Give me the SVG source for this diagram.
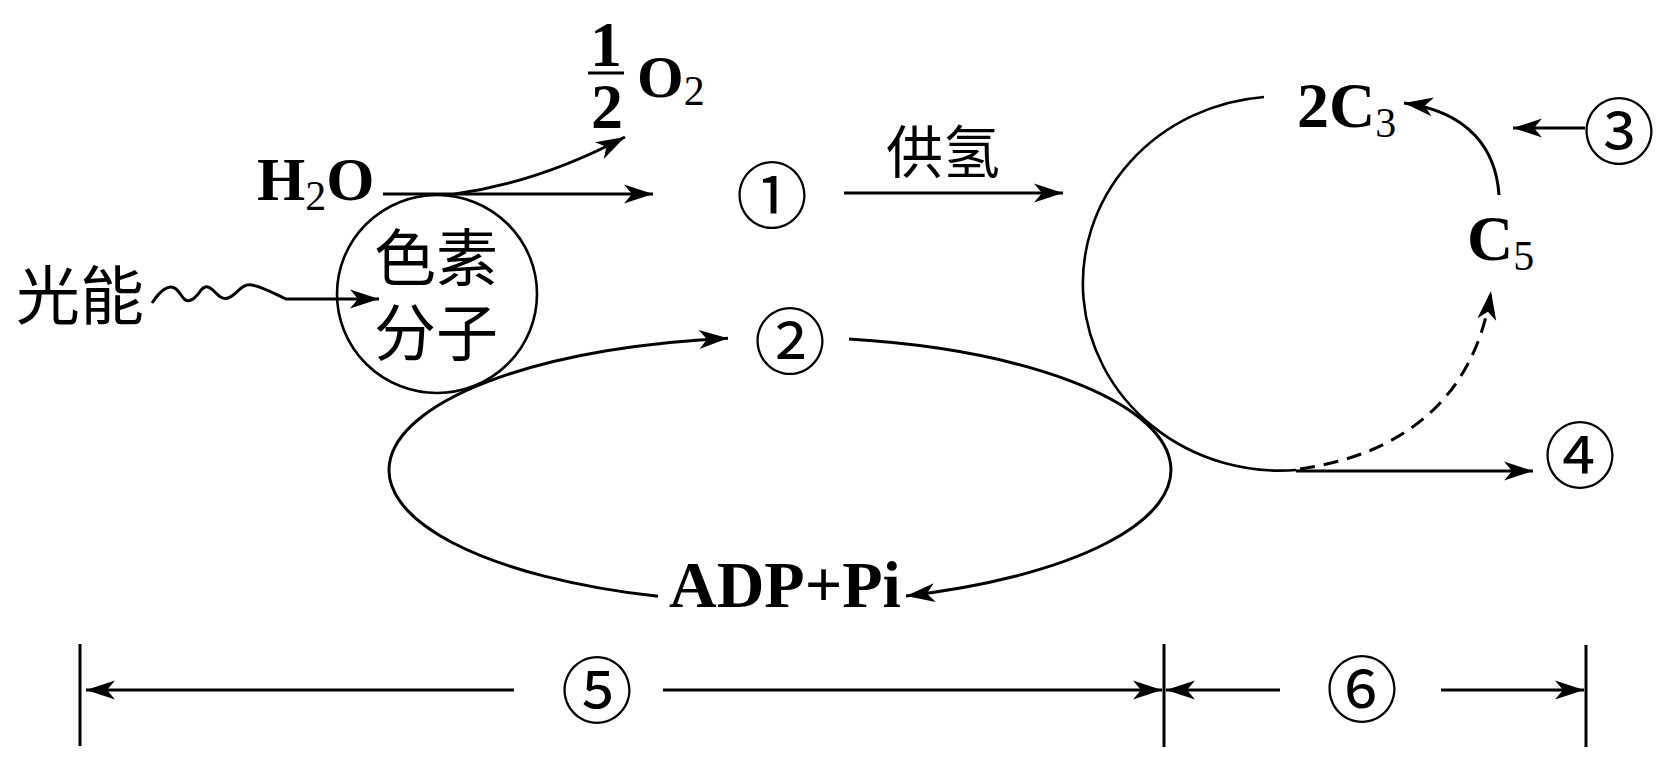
<svg xmlns="http://www.w3.org/2000/svg" width="1667" height="780" viewBox="0 0 1667 780">
<style>
.ln{fill:none;stroke:#000;stroke-width:3}
.cv{fill:none;stroke:#000;stroke-width:2.6}
.arr{marker-end:url(#ah)}
.dash{stroke-dasharray:15 9}
.lat{font-family:"Liberation Serif","Times New Roman",serif;font-weight:bold;fill:#000}
.sub{font-weight:normal}
.cjk{font-family:"Noto Sans CJK SC","Noto Sans CJK JP",sans-serif;fill:#000}
.num{font-family:"Noto Sans CJK SC","Noto Sans CJK JP",sans-serif;font-size:72px;fill:#000;text-anchor:middle}
</style>
<defs>
<marker id="ah" markerUnits="userSpaceOnUse" markerWidth="34" markerHeight="22" viewBox="-31 -11 34 22" refX="0" refY="0" orient="auto">
<path d="M0,0 L-29,-9.5 L-21,0 L-29,9.5 Z" fill="#000"/>
</marker>
</defs>
<rect width="1667" height="780" fill="#fff"/>

<g id="connectors">
<path class="ln arr" d="M383 194 L653 194"/>
<path class="ln arr" d="M455 194 C512 186 572 165 625 137"/>
<path class="ln arr" d="M152 303 C160 291 169 283 176 289 S183 303 191 300 S201 285 208 287 S219 301 228 298 S241 283 252 285 S273 293 286 299 L379 299"/>
<path class="ln arr" d="M844 193 L1063 193"/>
<path class="ln arr" d="M658 596.36 A391 133 0 0 1 728 338.18"/>
<path class="ln arr" d="M849 339.09 A391 133 0 0 1 906 595.9"/>
<path class="cv" d="M1264 97 A197 187 0 1 0 1296 470"/>
<path class="ln arr" d="M1296 471 L1533 471"/>
<path class="ln arr dash" d="M1300 469 C1400 455 1475 400 1491 291"/>
<path class="ln arr" d="M1499 195 C1496 150 1470 112 1404 103"/>
<path class="ln arr" d="M1585 128 L1513 128"/>
<line class="ln" x1="80" y1="644" x2="80" y2="746"/>
<line class="ln" x1="1164" y1="644" x2="1164" y2="747"/>
<line class="ln" x1="1586" y1="645" x2="1586" y2="747"/>
<path class="ln arr" d="M514 690 L86 690"/>
<path class="ln arr" d="M663 690 L1162 690"/>
<path class="ln arr" d="M1280 690 L1166 690"/>
<path class="ln arr" d="M1441 690 L1584 690"/>
</g>

<g id="node-light"><text class="cjk" x="16" y="319" font-size="64">光能</text></g>
<g id="node-pigment">
<ellipse class="cv" cx="437" cy="294" rx="100" ry="99"/>
<text class="cjk" font-size="62" text-anchor="middle"><tspan x="436" y="281">色素</tspan><tspan x="436" y="356">分子</tspan></text>
</g>
<g id="node-h2o"><text class="lat" x="257" y="200" font-size="62">H<tspan class="sub" font-size="42" dy="10">2</tspan><tspan dy="-10">O</tspan></text></g>
<g id="node-o2">
<line class="ln" x1="588" y1="73" x2="624" y2="73"/>
<text class="lat" font-size="64" text-anchor="middle"><tspan x="606" y="66">1</tspan><tspan x="607" y="128">2</tspan></text>
<text class="lat" x="637" y="97" font-size="60">O<tspan class="sub" font-size="42" dy="8">2</tspan></text>
</g>
<g id="node-1"><text class="num" x="772" y="222">①</text></g>
<g id="label-h"><text class="cjk" x="943" y="173" font-size="57" text-anchor="middle">供氢</text></g>
<g id="node-2"><text class="num" x="790" y="368">②</text></g>
<g id="node-adp"><text class="lat" x="669" y="607" font-size="66">ADP+Pi</text></g>
<g id="node-2c3"><text class="lat" x="1297" y="127" font-size="64">2C<tspan class="sub" font-size="42" dy="10">3</tspan></text></g>
<g id="node-c5"><text class="lat" x="1467" y="260" font-size="64">C<tspan class="sub" font-size="42" dy="10">5</tspan></text></g>
<g id="node-3"><text class="num" x="1619" y="158">③</text></g>
<g id="node-4"><text class="num" x="1580" y="482">④</text></g>
<g id="node-5"><text class="num" x="597" y="717">⑤</text></g>
<g id="node-6"><text class="num" x="1362" y="716">⑥</text></g>
</svg>
